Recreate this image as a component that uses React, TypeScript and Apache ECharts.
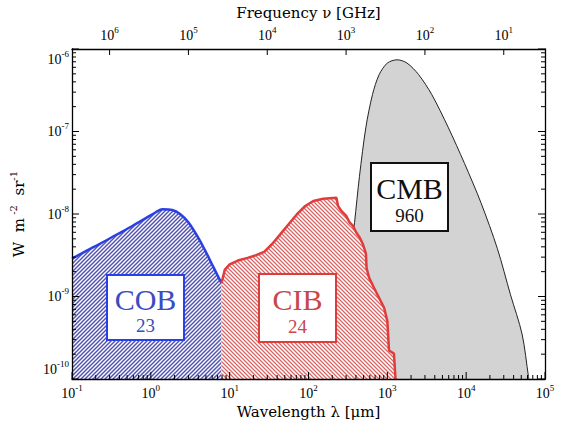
import React, { useEffect, useRef } from "react";
import * as echarts from "echarts";

// ---------- data ----------
// wavelength in micrometres, intensity in W m^-2 sr^-1
const cobData: [number, number][] = [
  [0.1, 2.88e-9], [0.154, 3.6e-9], [0.226, 4.35e-9], [0.365, 5.6e-9],
  [0.59, 7.2e-9], [0.866, 8.9e-9], [1.155, 1.05e-8], [1.4, 1.14e-8],
  [1.87, 1.12e-8], [2.37, 9.95e-9], [3.01, 7.9e-9], [3.84, 5.5e-9],
  [4.87, 3.64e-9], [6.18, 2.3e-9], [7.87, 1.45e-9],
];

const cibData: [number, number][] = [
  [7.87, 1.45e-9], [8.66, 2.1e-9], [10.0, 2.45e-9], [12.7, 2.73e-9],
  [16.9, 2.94e-9], [21.6, 3.17e-9], [27.4, 3.47e-9], [34.8, 4.36e-9],
  [44.3, 5.74e-9], [56.2, 7.55e-9], [71.4, 9.95e-9], [91.0, 1.25e-8],
  [115, 1.44e-8], [154, 1.53e-8], [226, 1.57e-8], [237, 1.25e-8],
  [261, 1.09e-8], [301, 9.5e-9], [332, 7.9e-9], [365, 7.23e-9],
  [402, 6.0e-9], [443, 5.24e-9], [487, 4.36e-9], [511, 3.8e-9],
  [535, 3.31e-9], [546, 2.19e-9], [590, 1.67e-9], [682, 1.26e-9],
  [788, 9.6e-10], [910, 7.3e-10], [1000, 5.06e-10], [1050, 2.22e-10],
  [1213, 2.03e-10], [1270, 1.0e-10],
];

const cmbData: [number, number][] = [
  [325, 1.0e-10], [360, 4.57e-9], [384, 7.9e-9], [443, 2.86e-8],
  [535, 1.13e-7], [649, 2.82e-7], [788, 4.9e-7], [1000, 6.75e-7],
  [1334, 7.4e-7], [1778, 6.75e-7], [2490, 4.9e-7], [3650, 2.82e-7],
  [5900, 1.13e-7], [9530, 4.1e-8], [15400, 1.37e-8], [24900, 3.8e-9],
  [36500, 1.05e-9], [51200, 3.5e-10], [61700, 1.07e-10], [62500, 1.0e-10],
];

const componentNames = ["COB", "CIB", "CMB"];
const componentTotals = ["23", "24", "960"];

// tick labels / tick positions
const xTickValues = [0.1, 1, 10, 100, 1000, 10000, 100000];
const yTickValues = [1e-10, 1e-9, 1e-8, 1e-7, 1e-6];
const nuTickValues = [10, 100, 1000, 10000, 100000, 1000000];
const xMinorDecades = [-1, 0, 1, 2, 3, 4];
const yMinorDecades = [-10, -9, -8, -7];
const minorMultipliers = [2, 3, 4, 5, 6, 7, 8, 9];

// ---------- styling ----------
const NUM_FONT = "'Liberation Serif', 'DejaVu Serif', serif";
const NAME_FONT = "'DejaVu Serif', 'Liberation Serif', serif";
const BLUE = "#2b40e0";
const BLUE_TEXT = "#3a4cc0";
const RED = "#e03c3c";
const RED_TEXT = "#c84848";
const C_UM_GHZ = 299792.458; // c in micrometre * GHz
const MAJOR_LEN = 7;
const MINOR_LEN = 4;
const TOP_LEN = 6;
const REF_X = 1; // any wavelength inside the axis range
const REF_Y = 1e-8; // any intensity inside the axis range

const minorValues = (decades: number[]) => {
  const out: number[] = [];
  decades.forEach((d) => minorMultipliers.forEach((k) => out.push(+(k * Math.pow(10, d)).toPrecision(6))));
  return out;
};

const powLabel = (v: number) => {
  const e = Math.round(Math.log10(v));
  return `{b|10}{s|${e}}`;
};

const numRich = {
  b: { fontSize: 14, fontFamily: NUM_FONT, color: "#000", lineHeight: 20 },
  s: { fontSize: 9, fontFamily: NUM_FONT, color: "#000", verticalAlign: "top" as const },
};

function hatch(color: string, dir: 1 | -1, width: number) {
  const s = 4;
  const d =
    dir === 1
      ? `M-1,1 L1,-1 M0,${s} L${s},0 M${s - 1},${s + 1} L${s + 1},${s - 1}`
      : `M-1,${s - 1} L1,${s + 1} M0,0 L${s},${s} M${s - 1},-1 L${s + 1},1`;
  const svg = `<svg xmlns='http://www.w3.org/2000/svg' width='${s}' height='${s}'><rect width='${s}' height='${s}' fill='#ffffff'/><path d='${d}' stroke='${color}' stroke-width='${width}' fill='none'/></svg>`;
  return {
    image: "data:image/svg+xml;charset=utf-8," + encodeURIComponent(svg),
    repeat: "repeat",
    imageWidth: s,
    imageHeight: s,
  } as any;
}

function box(cx: number, y: number, w: number, h: number, border: string, textColor: string, name: string, total: string) {
  return {
    type: "group",
    z: 100,
    children: [
      { type: "rect", z: 100, shape: { x: cx - w / 2, y, width: w, height: h }, style: { fill: "#fff", stroke: border, lineWidth: 2 } },
      { type: "text", z: 101, x: cx, y: y + h * 0.37, style: { text: name, fontSize: 30, fontFamily: NUM_FONT, fill: textColor, align: "center", verticalAlign: "middle" } },
      { type: "text", z: 101, x: cx, y: y + h * 0.77, style: { text: total, fontSize: 19, fontFamily: NUM_FONT, fill: textColor, align: "center", verticalAlign: "middle" } },
    ],
  };
}

const tickLine = (x1: number, y1: number, x2: number, y2: number) => ({
  type: "line",
  shape: { x1, y1, x2, y2 },
  style: { stroke: "#000", lineWidth: 1 },
});

export default function App() {
  const ref = useRef<HTMLDivElement>(null);
  useEffect(() => {
    if (!ref.current) return;
    const chart = echarts.init(ref.current, null, { renderer: "svg" });
    const axisLine = { show: true, lineStyle: { color: "#000", width: 1.3 } };
    const logX = { type: "log" as const, logBase: 10, min: 0.1, max: 100000, splitLine: { show: false }, z: 10 };
    const logY = { type: "log" as const, logBase: 10, min: 1e-10, max: 1e-6, splitLine: { show: false }, z: 10 };
    const nameStyle = { fontFamily: NAME_FONT, fontSize: 15, color: "#000" };

    // tick rows: [wavelength, intensity, tick length]
    const bottomTicks = [
      ...xTickValues.map((v) => [v, REF_Y, MAJOR_LEN]),
      ...minorValues(xMinorDecades).map((v) => [v, REF_Y, MINOR_LEN]),
    ];
    const topTicks = nuTickValues.map((nu) => [C_UM_GHZ / nu, REF_Y, TOP_LEN]);
    const sideTicks = [
      ...yTickValues.map((v) => [REF_X, v, MAJOR_LEN]),
      ...minorValues(yMinorDecades).map((v) => [REF_X, v, MINOR_LEN]),
    ];

    chart.setOption({
      animation: false,
      backgroundColor: "#fff",
      grid: { left: 65, right: 18, top: 44, bottom: 46, containLabel: false },
      xAxis: [
        {
          ...logX,
          position: "bottom",
          axisLine,
          axisTick: { show: false },
          axisLabel: { show: true, margin: 4, customValues: xTickValues, formatter: powLabel, rich: numRich },
          name: "Wavelength λ [μm]",
          nameLocation: "middle",
          nameGap: 23,
          nameTextStyle: nameStyle,
        },
        {
          type: "log",
          logBase: 10,
          inverse: true,
          min: C_UM_GHZ / 100000,
          max: C_UM_GHZ / 0.1,
          position: "top",
          z: 10,
          splitLine: { show: false },
          axisLine,
          axisTick: { show: false },
          axisLabel: { show: true, margin: 4, customValues: nuTickValues, formatter: powLabel, rich: numRich },
          name: "Frequency ν [GHz]",
          nameLocation: "middle",
          nameGap: 29,
          nameTextStyle: nameStyle,
        },
      ],
      yAxis: [
        {
          ...logY,
          position: "left",
          axisLine,
          axisTick: { show: false },
          axisLabel: {
            show: true,
            margin: 3,
            customValues: yTickValues,
            formatter: powLabel,
            rich: numRich,
            verticalAlignMinLabel: "bottom",
            verticalAlignMaxLabel: "top",
          },
          name: "{n|W  m}{s| -2}{n|  sr}{s|-1}",
          nameLocation: "middle",
          nameGap: 42,
          nameTextStyle: {
            rich: {
              n: { fontSize: 15, fontFamily: NAME_FONT, color: "#000", lineHeight: 22 },
              s: { fontSize: 10, fontFamily: NAME_FONT, color: "#000", verticalAlign: "top" },
            },
          },
        },
        {
          ...logY,
          position: "right",
          axisLine,
          axisTick: { show: false },
          axisLabel: { show: false },
        },
      ],
      series: [
        {
          name: componentNames[2],
          type: "line",
          data: cmbData,
          smooth: 0.3,
          symbol: "none",
          lineStyle: { color: "#222", width: 1 },
          areaStyle: { color: "#d3d3d3", opacity: 1, origin: "start" },
          z: 2,
        },
        {
          name: componentNames[0],
          type: "line",
          data: cobData,
          smooth: 0.3,
          symbol: "none",
          lineStyle: { color: BLUE, width: 2.5 },
          areaStyle: { color: hatch("#5454b0", 1, 1.5), opacity: 1, origin: "start" },
          z: 3,
        },
        {
          name: componentNames[1],
          type: "line",
          data: cibData,
          symbol: "none",
          lineStyle: { color: RED, width: 2.5 },
          areaStyle: { color: hatch("#d86868", -1, 1.3), opacity: 1, origin: "start" },
          z: 3,
        },
        {
          name: "bottom ticks",
          type: "custom",
          silent: true,
          z: 20,
          data: bottomTicks,
          encode: { x: 0, y: 1 },
          renderItem: (params: any, api: any) => {
            const cs = params.coordSys;
            const p = api.coord([api.value(0), api.value(1)]);
            const len = api.value(2);
            const yb = cs.y + cs.height;
            return tickLine(p[0], yb, p[0], yb - len);
          },
        },
        {
          name: "top ticks",
          type: "custom",
          silent: true,
          z: 20,
          data: topTicks,
          encode: { x: 0, y: 1 },
          renderItem: (params: any, api: any) => {
            const cs = params.coordSys;
            const p = api.coord([api.value(0), api.value(1)]);
            const len = api.value(2);
            return tickLine(p[0], cs.y, p[0], cs.y + len);
          },
        },
        {
          name: "side ticks",
          type: "custom",
          silent: true,
          z: 20,
          data: sideTicks,
          encode: { x: 0, y: 1 },
          renderItem: (params: any, api: any) => {
            const cs = params.coordSys;
            const p = api.coord([api.value(0), api.value(1)]);
            const len = api.value(2);
            const xr = cs.x + cs.width;
            return {
              type: "group",
              children: [tickLine(cs.x, p[1], cs.x + len, p[1]), tickLine(xr, p[1], xr - len, p[1])],
            };
          },
        },
      ],
      graphic: [
        box(145.5, 275, 77, 65, BLUE, BLUE_TEXT, componentNames[0], componentTotals[0]),
        box(297.5, 274, 77, 68, RED, RED_TEXT, componentNames[1], componentTotals[1]),
        box(409.5, 163, 77, 68, "#111", "#111", componentNames[2], componentTotals[2]),
      ],
    });
    return () => chart.dispose();
  }, []);
  return <div ref={ref} style={{ position: "fixed", left: 0, top: 0, width: 563, height: 425 }} />;
}
